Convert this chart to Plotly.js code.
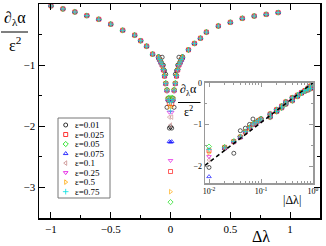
<!DOCTYPE html>
<html><head><meta charset="utf-8">
<script src="https://cdn.plot.ly/plotly-3.0.1.min.js"></script>
<style>html,body{margin:0;padding:0;background:#fff}</style>
</head><body><div id="chart" style="width:326px;height:246px"></div>
<script>
// ---- data ----
const epsLabels = ['ε=0.01','ε=0.025','ε=0.05','ε=0.075','ε=0.1','ε=0.25','ε=0.5','ε=0.75'];
const symbols = ['circle-open','square-open','diamond-open','triangle-up-open','triangle-left-open','triangle-down-open','triangle-right-open','cross-thin-open'];
const colors = ['#000000','#ff0000','#00dd00','#0000ff','#c88c8c','#e000e0','#ffa500','#00e0e0'];

// |Δλ| >= 0.15 : all ε collapse on one curve
const dlLarge = [-1, -0.9, -0.8, -0.7, -0.6, -0.5, -0.4, -0.3, -0.25, -0.2, -0.15,
                 0.15, 0.2, 0.25, 0.3, 0.4, 0.5, 0.6, 0.7, 0.8, 0.9];
const yLarge  = [-0.03, -0.08, -0.13, -0.19, -0.25, -0.33, -0.43, -0.51, -0.60, -0.69, -0.82,
                 -0.75, -0.645, -0.56, -0.46, -0.36, -0.30, -0.235, -0.197, -0.17, -0.14];

// small |Δλ|
const dlSmall = [0.01, 0.02, 0.03, 0.04, 0.05, 0.06, 0.07, 0.08, 0.09, 0.1];
const ySmall_001  = [-2.03, -1.58, -1.69, -1.15, -1.09, -1.00, -0.87, -0.95, -0.90, -0.86];
const ySmall_0025 = [-1.63, -1.55, -1.41, -1.30, -1.18, -1.08, -1.00, -0.96, -0.91, -0.88];
const ySmall_005  = [-1.53, -1.54, -1.40, -1.29, -1.17, -1.07, -0.99, -0.95, -0.91, -0.87];
const ySmall_0075 = [-2.25, -1.57, -1.42, -1.31, -1.18, -1.08, -1.00, -0.96, -0.92, -0.88];
const ySmall_01   = [-1.85, -1.56, -1.42, -1.30, -1.18, -1.09, -1.01, -0.96, -0.92, -0.88];
const ySmall_025  = [-1.77, -1.58, -1.43, -1.31, -1.19, -1.09, -1.01, -0.97, -0.92, -0.88];
const ySmall_05   = [-1.68, -1.57, -1.42, -1.31, -1.18, -1.08, -1.00, -0.96, -0.91, -0.87];
const ySmall_075  = [-1.60, -1.56, -1.41, -1.30, -1.17, -1.07, -0.99, -0.95, -0.91, -0.87];
const ySmallAll = [ySmall_001, ySmall_0025, ySmall_005, ySmall_0075, ySmall_01, ySmall_025, ySmall_05, ySmall_075];

// Δλ = 0
const yZero = [-2.01, -2.74, -3.24, -2.26, -1.98, -2.56, -3.07, -1.75];

// dashed guide in inset
const dashX = [0.0084, 1];
const dashY = [-1.98, 0];

// ---- geometry helpers ----
const W = 326, H = 246, L = 39, R = 6, T = 4, B = 28;
const pw = W - L - R, ph = H - T - B;
const px = x => (x - L) / pw;
const py = y => 1 - (y - T) / ph;

const serif = 'Liberation Serif, Times New Roman, serif';
const traces = [];
const mk = (i) => ({symbol: symbols[i], size: 4, color: colors[i], opacity: 0.8, line: {color: colors[i], width: 0.8}});

for (let i = 0; i < 8; i++) {
  const ys = ySmallAll[i];
  const x = [...dlLarge, ...dlSmall.map(v => -v), ...dlSmall, 0];
  const y = [...yLarge, ...ys, ...ys, yZero[i]];
  traces.push({type: 'scatter', mode: 'markers', x: x, y: y, xaxis: 'x', yaxis: 'y',
    marker: mk(i), showlegend: false, hoverinfo: 'skip'});
}
// inset
for (let i = 0; i < 8; i++) {
  const ys = ySmallAll[i];
  const x = [...dlLarge.map(Math.abs), ...dlSmall];
  const y = [...yLarge, ...ys];
  traces.push({type: 'scatter', mode: 'markers', x: x, y: y, xaxis: 'x2', yaxis: 'y2',
    marker: mk(i), showlegend: false, hoverinfo: 'skip'});
}
traces.push({type: 'scatter', mode: 'lines', x: dashX, y: dashY, xaxis: 'x2', yaxis: 'y2',
  line: {color: '#000', width: 1.5, dash: '4px,3px'}, showlegend: false, hoverinfo: 'skip'});

// manual legend
const legIdx = epsLabels.map((_, i) => i);
traces.push({type: 'scatter', mode: 'markers', x: legIdx.map(() => 7.7), y: legIdx,
  xaxis: 'x3', yaxis: 'y3', showlegend: false, hoverinfo: 'skip',
  marker: {symbol: symbols, size: 4, color: colors, line: {color: colors, width: 0.8}}});

const annotations = epsLabels.map((t, i) => ({xref: 'x3', yref: 'y3', x: 15, y: i, text: t,
  showarrow: false, xanchor: 'left', yanchor: 'middle', font: {family: serif, size: 9, color: '#000'}}));

// axis titles
annotations.push({xref: 'paper', yref: 'paper', x: px(15), y: py(19), text: '∂<sub>λ</sub>α',
  showarrow: false, xanchor: 'center', yanchor: 'middle', font: {family: serif, size: 16, color: '#000'}});
annotations.push({xref: 'paper', yref: 'paper', x: px(15), y: py(44), text: 'ε<sup>2</sup>',
  showarrow: false, xanchor: 'center', yanchor: 'middle', font: {family: serif, size: 16, color: '#000'}});
annotations.push({xref: 'paper', yref: 'paper', x: px(261), y: py(236.5), text: 'Δλ',
  showarrow: false, xanchor: 'center', yanchor: 'middle', font: {family: serif, size: 16, color: '#000'}});
annotations.push({xref: 'paper', yref: 'paper', x: px(189), y: py(90), text: '∂<sub>λ</sub>α',
  showarrow: false, xanchor: 'center', yanchor: 'middle', font: {family: serif, size: 12, color: '#000'}});
annotations.push({xref: 'paper', yref: 'paper', x: px(189), y: py(111), text: 'ε<sup>2</sup>',
  showarrow: false, xanchor: 'center', yanchor: 'middle', font: {family: serif, size: 12, color: '#000'}});
annotations.push({xref: 'paper', yref: 'paper', x: px(292), y: py(200), text: '|Δλ|',
  showarrow: false, xanchor: 'center', yanchor: 'middle', font: {family: serif, size: 12, color: '#000'}});

const shapes = [
  {type: 'line', xref: 'paper', yref: 'paper', x0: px(1), x1: px(28), y0: py(32), y1: py(32), line: {color: '#000', width: 1}},
  {type: 'line', xref: 'paper', yref: 'paper', x0: px(178), x1: px(200.5), y0: py(102.5), y1: py(102.5), line: {color: '#000', width: 1}},
  {type: 'rect', xref: 'paper', yref: 'paper', x0: px(58), x1: px(110), y0: py(118), y1: py(198), line: {color: '#777', width: 1}, fillcolor: 'rgba(0,0,0,0)'}
];

const layout = {
  width: W, height: H, margin: {l: L, r: R, t: T, b: B},
  paper_bgcolor: '#fff', plot_bgcolor: '#fff', showlegend: false,
  font: {family: serif, color: '#000'},
  xaxis: {domain: [0, 1], range: [-1.1, 1.25], showgrid: false, zeroline: false,
    showline: true, linecolor: '#000', linewidth: 1.5, mirror: 'ticks',
    ticks: 'inside', ticklen: 6, tickwidth: 1, tickcolor: '#000', dtick: 0.5, tick0: 0,
    tickfont: {family: serif, size: 11},
    minor: {ticks: 'inside', ticklen: 3, dtick: 0.25, tickcolor: '#000', showgrid: false}},
  yaxis: {domain: [0, 1], range: [-3.5, 0], showgrid: false, zeroline: false,
    showline: true, linecolor: '#000', linewidth: 1.5, mirror: 'ticks',
    ticks: 'inside', ticklen: 6, tickwidth: 1, tickcolor: '#000', dtick: 1, tick0: 0,
    tickfont: {family: serif, size: 11},
    minor: {ticks: 'inside', ticklen: 3, dtick: 0.5, tickcolor: '#000', showgrid: false}},
  xaxis2: {domain: [px(205), px(313)], anchor: 'y2', type: 'log', range: [-2.077, 0],
    showgrid: false, zeroline: false, showline: true, linecolor: '#999', linewidth: 1.5, mirror: 'ticks',
    ticks: 'inside', ticklen: 4, tickcolor: '#999', tickmode: 'array',
    tickvals: [0.01, 0.1, 1], ticktext: ['10<sup>-2</sup>', '10<sup>-1</sup>', '10<sup>0</sup>'],
    tickfont: {family: serif, size: 8},
    minor: {ticks: 'inside', ticklen: 2, tickcolor: '#999', tickmode: 'array',
      tickvals: [0.02,0.03,0.04,0.05,0.06,0.07,0.08,0.09,0.2,0.3,0.4,0.5,0.6,0.7,0.8,0.9]}},
  yaxis2: {domain: [py(183.3), py(82.7)], anchor: 'x2', range: [-2.41, 0],
    showgrid: false, zeroline: false, showline: true, linecolor: '#999', linewidth: 1.5, mirror: 'ticks',
    ticks: 'inside', ticklen: 4, tickcolor: '#999', dtick: 1, tick0: 0,
    tickfont: {family: serif, size: 8},
    minor: {ticks: 'inside', ticklen: 2, tickcolor: '#999', dtick: 0.5}},
  xaxis3: {domain: [px(58), px(110)], anchor: 'y3', range: [0, 52], visible: false, fixedrange: true},
  yaxis3: {domain: [py(198), py(118)], anchor: 'x3', range: [7.665, -0.735], visible: false, fixedrange: true},
  annotations: annotations, shapes: shapes
};

Plotly.newPlot('chart', traces, layout, {staticPlot: true, displayModeBar: false});
</script></body></html>
